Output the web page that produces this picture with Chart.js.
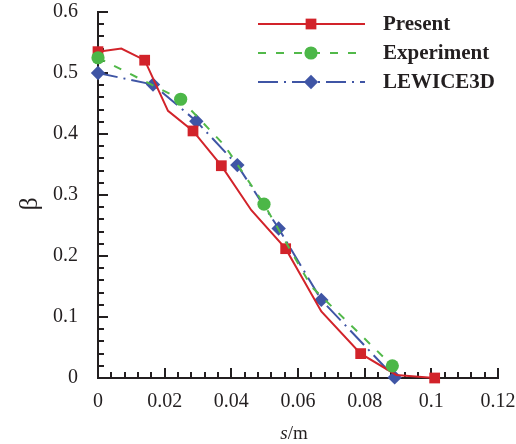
<!DOCTYPE html>
<html>
<head>
<meta charset="utf-8">
<script src="https://cdn.jsdelivr.net/npm/chart.js@4/dist/chart.umd.min.js"></script>
<style>
  html, body { margin: 0; padding: 0; background: #ffffff; }
  #c { display: block; }
</style>
</head>
<body>
<canvas id="c" width="516" height="444"></canvas>
<script>
// Collection efficiency beta along the surface coordinate s (m)
const sPresent    = [0, 0.007, 0.014, 0.021, 0.0285, 0.037, 0.046, 0.0563, 0.067, 0.0788, 0.0895, 0.101];
const betaPresent = [0.535, 0.540, 0.521, 0.438, 0.405, 0.348, 0.275, 0.212, 0.109, 0.040, 0.005, 0.000];
const presentSymbolIdx = [0, 2, 4, 5, 7, 9, 11];

const sExperiment    = [0, 0.0248, 0.038, 0.0498, 0.064, 0.0883];
const betaExperiment = [0.525, 0.457, 0.381, 0.285, 0.150, 0.020];
const experimentSymbolIdx = [0, 1, 3, 5];

const sLewice    = [0, 0.0165, 0.0295, 0.0418, 0.0542, 0.067, 0.089];
const betaLewice = [0.500, 0.481, 0.421, 0.349, 0.245, 0.128, 0.001];

const seriesNames = ['Present', 'Experiment', 'LEWICE3D'];
const xTickValues = [0, 0.02, 0.04, 0.06, 0.08, 0.1, 0.12];
const yTickValues = [0, 0.1, 0.2, 0.3, 0.4, 0.5, 0.6];

const INK = '#231f20';
const SERIF = '"Liberation Serif", "Times New Roman", serif';

function pts(xs, ys) { return xs.map((x, i) => ({ x: x, y: ys[i] })); }
function fmt(v) { return String(Number(v.toFixed(3))); }

const datasets = [
  {
    label: seriesNames[0],
    data: pts(sPresent, betaPresent),
    borderColor: '#d2232a', backgroundColor: '#d2232a',
    borderWidth: 2, borderDash: [],
    pointStyle: 'rect',
    pointRadius: ctx => presentSymbolIdx.includes(ctx.dataIndex) ? 7.6 : 0,
    pointBorderWidth: 0,
    order: 2
  },
  {
    label: seriesNames[1],
    data: pts(sExperiment, betaExperiment),
    borderColor: '#52b94a', backgroundColor: '#4cb748',
    borderWidth: 2, borderDash: [8, 10],
    pointStyle: 'circle',
    pointRadius: ctx => experimentSymbolIdx.includes(ctx.dataIndex) ? 6.6 : 0,
    pointBorderWidth: 0,
    order: 1
  },
  {
    label: seriesNames[2],
    data: pts(sLewice, betaLewice),
    borderColor: '#3f55a5', backgroundColor: '#3f55a5',
    borderWidth: 2, borderDash: [20, 6, 2, 6],
    pointStyle: 'rectRot',
    pointRadius: 7.2,
    pointBorderWidth: 0,
    order: 3
  }
];

function drawMarker(ctx, style, x, y, r, color) {
  ctx.save();
  ctx.fillStyle = color;
  ctx.beginPath();
  if (style === 'rect') {
    const h = r * Math.SQRT1_2;
    ctx.rect(x - h, y - h, 2 * h, 2 * h);
  } else if (style === 'rectRot') {
    ctx.moveTo(x, y - r); ctx.lineTo(x + r, y); ctx.lineTo(x, y + r); ctx.lineTo(x - r, y);
    ctx.closePath();
  } else {
    ctx.arc(x, y, r, 0, Math.PI * 2);
  }
  ctx.fill();
  ctx.restore();
}

// Inward-pointing major and minor tick marks on the left and bottom axes
function drawInnerTicks(chart) {
  const { ctx, chartArea, scales } = chart;
  const xs = scales.x, ys = scales.y;
  ctx.save();
  ctx.setLineDash([]);
  ctx.strokeStyle = INK;
  ctx.lineWidth = 2;
  ctx.beginPath();
  for (let i = 0; i <= 30; i++) {
    const px = Math.round(xs.getPixelForValue(i * 0.004));
    const len = i % 5 === 0 ? 10 : 6;
    ctx.moveTo(px, chartArea.bottom);
    ctx.lineTo(px, chartArea.bottom - len);
  }
  for (let i = 0; i <= 30; i++) {
    const py = Math.round(ys.getPixelForValue(i * 0.02));
    const len = i % 5 === 0 ? 10 : 6;
    ctx.moveTo(chartArea.left, py);
    ctx.lineTo(chartArea.left + len, py);
  }
  ctx.stroke();
  ctx.restore();
}

const innerTicks = {
  id: 'innerTicks',
  beforeDatasetsDraw(chart) { drawInnerTicks(chart); }
};

// Axis titles: rotated beta and "s/m" with an italic s
const axisTitles = {
  id: 'axisTitles',
  afterDraw(chart) {
    const { ctx, chartArea } = chart;
    ctx.save();
    ctx.fillStyle = INK;
    ctx.translate(30, (chartArea.top + chartArea.bottom) / 2 + 9);
    ctx.rotate(-Math.PI / 2);
    ctx.font = '26px ' + SERIF;
    ctx.textAlign = 'center';
    ctx.textBaseline = 'middle';
    ctx.fillText('β', 0, 0);
    ctx.restore();

    ctx.save();
    ctx.fillStyle = INK;
    ctx.textBaseline = 'alphabetic';
    ctx.textAlign = 'left';
    const italic = 'italic 19px ' + SERIF, upright = '19px ' + SERIF;
    ctx.font = italic; const w1 = ctx.measureText('s').width;
    ctx.font = upright; const w2 = ctx.measureText('/m').width;
    const cx = (chartArea.left + chartArea.right) / 2 - 4;
    const x0 = cx - (w1 + w2) / 2, base = 439;
    ctx.font = italic; ctx.fillText('s', x0, base);
    ctx.font = upright; ctx.fillText('/m', x0 + w1, base);
    ctx.restore();
  }
};

// Legend rows: line sample with its symbol, then bold series name
const lineLegend = {
  id: 'lineLegend',
  afterDraw(chart) {
    const { ctx } = chart;
    const rows = [24, 53, 82];
    chart.data.datasets.forEach((ds, i) => {
      const y = rows[i];
      ctx.save();
      ctx.strokeStyle = ds.borderColor;
      ctx.lineWidth = ds.borderWidth;
      ctx.setLineDash(ds.borderDash);
      ctx.beginPath();
      ctx.moveTo(258, y);
      ctx.lineTo(365, y);
      ctx.stroke();
      ctx.restore();
      const r = ds.pointStyle === 'rect' ? 7.6 : ds.pointStyle === 'circle' ? 6.6 : 7.2;
      drawMarker(ctx, ds.pointStyle, 311, y, r, ds.backgroundColor);
      ctx.save();
      ctx.fillStyle = INK;
      ctx.font = 'bold 21px ' + SERIF;
      ctx.textAlign = 'left';
      ctx.textBaseline = 'middle';
      ctx.fillText(ds.label, 383, y + 1);
      ctx.restore();
    });
  }
};

new Chart(document.getElementById('c'), {
  type: 'scatter',
  data: { datasets: datasets.map(d => Object.assign({ showLine: true, clip: false, tension: 0 }, d)) },
  options: {
    responsive: false,
    animation: false,
    devicePixelRatio: 1,
    layout: { padding: { top: 12, right: 18, left: 0, bottom: 0 } },
    plugins: { legend: { display: false }, tooltip: { enabled: false } },
    scales: {
      x: {
        type: 'linear', min: 0, max: 0.12,
        grid: { display: false },
        border: { display: true, color: INK, width: 2 },
        afterBuildTicks: s => { s.ticks = xTickValues.map(v => ({ value: v })); },
        ticks: { callback: v => fmt(v), color: INK, font: { family: SERIF, size: 20 }, padding: 4, maxRotation: 0, autoSkip: false },
        afterFit: s => { s.height = 66; s.paddingLeft = 0; s.paddingRight = 0; }
      },
      y: {
        type: 'linear', min: 0, max: 0.6,
        grid: { display: false },
        border: { display: true, color: INK, width: 2 },
        afterBuildTicks: s => { s.ticks = yTickValues.map(v => ({ value: v })); },
        ticks: { callback: v => fmt(v), color: INK, font: { family: SERIF, size: 20 }, padding: 12, autoSkip: false },
        afterFit: s => { s.width = 98; s.paddingTop = 0; s.paddingBottom = 0; }
      }
    }
  },
  plugins: [innerTicks, axisTitles, lineLegend]
});
</script>
</body>
</html>
